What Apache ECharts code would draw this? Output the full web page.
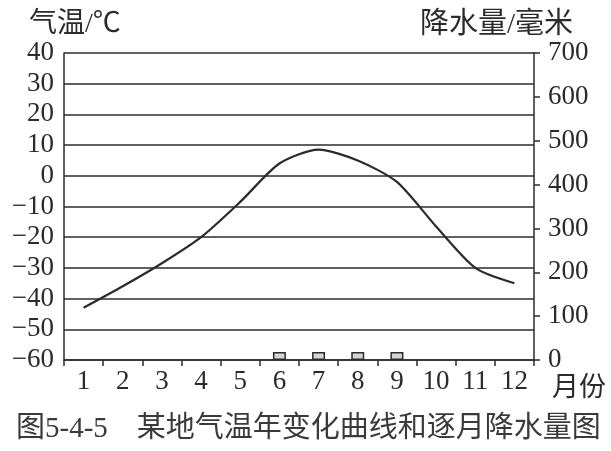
<!DOCTYPE html>
<html>
<head>
<meta charset="utf-8">
<script src="https://cdn.jsdelivr.net/npm/echarts@6/dist/echarts.min.js"></script>
<style>
html,body{margin:0;padding:0;background:#fff;}
#c{width:611px;height:451px;}
</style>
</head>
<body>
<div id="c"></div>
<script>
var months = ['1','2','3','4','5','6','7','8','9','10','11','12'];
var temperature = [-43, -36, -28.5, -20, -8.5, 4, 8.5, 5, -2, -16.5, -30, -35];
// months without a visible bar have (near) zero precipitation
var precipitation = [null, null, null, null, null, 18, 18, 18, 18, null, null, null];
var leftTitle = '气温/℃';
var rightTitle = '降水量/毫米';
var xTitle = '月份';
var caption = '图5-4-5\u3000某地气温年变化曲线和逐月降水量图';

var FONT = "'Liberation Serif', 'Times New Roman', 'Noto Sans CJK SC', serif";
var INK = '#2b2b2b';

var chart = echarts.init(document.getElementById('c'));
chart.setOption({
  animation: false,
  backgroundColor: '#fff',
  title: [
    {text: leftTitle, left: 24, top: 6, textStyle: {fontFamily: FONT, fontSize: 28, fontWeight: 'normal', color: INK}},
    {text: rightTitle, left: 415, top: 6, textStyle: {fontFamily: FONT, fontSize: 29, fontWeight: 'normal', color: INK}},
    {text: xTitle, left: 547, top: 370, textStyle: {fontFamily: FONT, fontSize: 27, fontWeight: 'normal', color: INK}},
    {text: caption, left: 11, top: 410, textStyle: {fontFamily: FONT, fontSize: 29, fontWeight: 'normal', color: '#3a3a3a'}}
  ],
  grid: {left: 64, right: 77, top: 53, bottom: 91, containLabel: false},
  xAxis: {
    type: 'category',
    data: months,
    boundaryGap: true,
    axisLine: {onZero: false, lineStyle: {color: INK, width: 1.5}},
    axisTick: {show: true, inside: false, length: 6, lineStyle: {color: INK, width: 1.5}},
    axisLabel: {fontFamily: FONT, fontSize: 27, color: INK, margin: 8},
    splitLine: {show: false}
  },
  yAxis: [
    {
      type: 'value', min: -60, max: 40, interval: 10, position: 'left',
      axisLine: {show: true, lineStyle: {color: INK, width: 1.5}},
      axisTick: {show: false},
      axisLabel: {fontFamily: FONT, fontSize: 27, color: INK, margin: 10,
        formatter: function (v) { return String(v).replace('-', '\u2212'); }},
      splitLine: {show: true, lineStyle: {color: INK, width: 1.5}}
    },
    {
      type: 'value', min: 0, max: 700, interval: 100, position: 'right',
      axisLine: {show: true, lineStyle: {color: INK, width: 1.5}},
      axisTick: {show: true, inside: false, length: 6, lineStyle: {color: INK, width: 1.5}},
      axisLabel: {fontFamily: FONT, fontSize: 27, color: INK, margin: 14},
      splitLine: {show: false}
    }
  ],
  series: [
    {
      type: 'bar', yAxisIndex: 1, data: precipitation, barWidth: 13,
      itemStyle: {color: '#d4d4d4', borderColor: INK, borderWidth: 1.5}
    },
    {
      type: 'line', yAxisIndex: 0, data: temperature, smooth: 0.25,
      symbol: 'none', lineStyle: {color: INK, width: 2.2}
    }
  ]
});
</script>
</body>
</html>
